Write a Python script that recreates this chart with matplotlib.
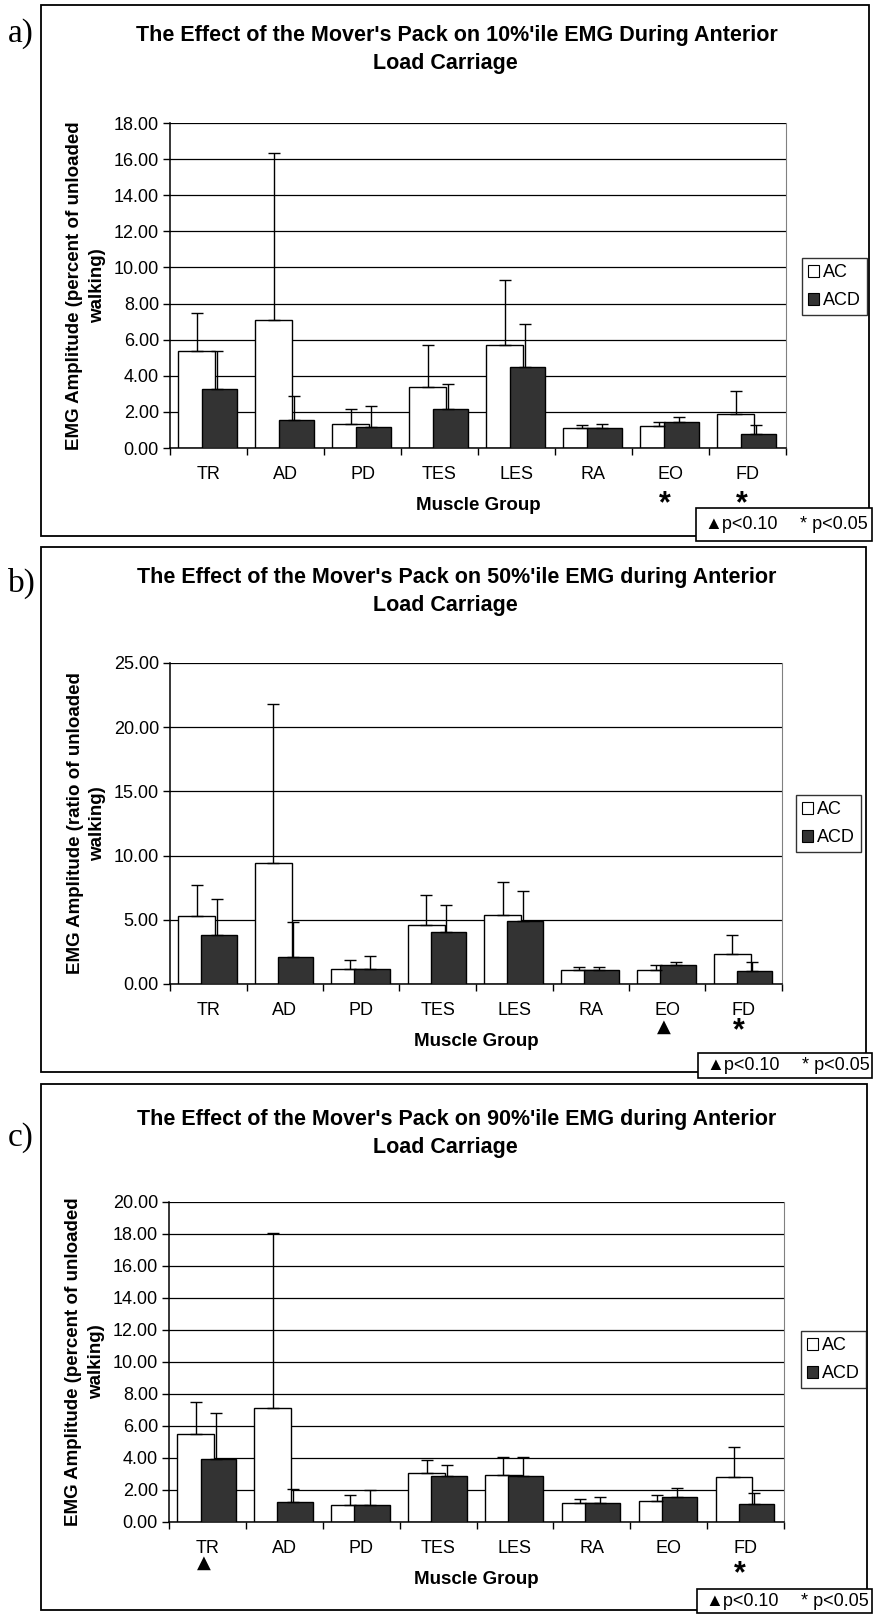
import matplotlib
matplotlib.use("Agg")
import matplotlib.pyplot as plt
from matplotlib.patches import Rectangle, Patch
from matplotlib.ticker import FormatStrFormatter
import numpy as np

plt.rcParams['font.family'] = ['Liberation Sans', 'DejaVu Sans']

W, H = 873, 1614

muscles = ["TR", "AD", "PD", "TES", "LES", "RA", "EO", "FD"]

# 10%ile EMG
ac_10 = [5.36, 7.10, 1.33, 3.39, 5.73, 1.13, 1.20, 1.89]
ac_10_sd = [2.09, 9.23, 0.83, 2.34, 3.57, 0.16, 0.24, 1.29]
acd_10 = [3.29, 1.57, 1.18, 2.16, 4.46, 1.13, 1.42, 0.76]
acd_10_sd = [2.07, 1.32, 1.17, 1.39, 2.42, 0.22, 0.32, 0.53]

# 50%ile EMG
ac_50 = [5.27, 9.42, 1.14, 4.62, 5.37, 1.12, 1.12, 2.31]
ac_50_sd = [2.41, 12.41, 0.76, 2.29, 2.57, 0.23, 0.33, 1.53]
acd_50 = [3.79, 2.08, 1.14, 4.08, 4.93, 1.12, 1.45, 1.01]
acd_50_sd = [2.80, 2.72, 1.04, 2.10, 2.31, 0.23, 0.29, 0.70]

# 90%ile EMG
ac_90 = [5.47, 7.10, 1.08, 3.04, 2.96, 1.19, 1.29, 2.81]
ac_90_sd = [2.04, 10.96, 0.58, 0.85, 1.08, 0.25, 0.42, 1.87]
acd_90 = [3.95, 1.27, 1.08, 2.85, 2.85, 1.21, 1.54, 1.10]
acd_90_sd = [2.88, 0.81, 0.94, 0.69, 1.19, 0.33, 0.56, 0.71]

titles = [
    ("The Effect of the Mover's Pack on 10%'ile EMG During Anterior", "Load Carriage"),
    ("The Effect of the Mover's Pack on 50%'ile EMG during Anterior", "Load Carriage"),
    ("The Effect of the Mover's Pack on 90%'ile EMG during Anterior", "Load Carriage"),
]
ylabels = [
    "EMG Amplitude (percent of unloaded\nwalking)",
    "EMG Amplitude (ratio of unloaded\nwalking)",
    "EMG Amplitude (percent of unloaded\nwalking)",
]
ymax = [18, 25, 20]
ystep = [2, 5, 2]
panel_tags = ["a)", "b)", "c)"]
# significance marks: (muscle index, symbol, pixels below axis)
sig_marks = [
    [(6, "*", 56), (7, "*", 56)],
    [(6, "\u25B2", 43), (7, "*", 47)],
    [(0, "\u25B2", 41), (7, "*", 52)],
]

data = [
    (ac_10, ac_10_sd, acd_10, acd_10_sd),
    (ac_50, ac_50_sd, acd_50, acd_50_sd),
    (ac_90, ac_90_sd, acd_90, acd_90_sd),
]

# layout in pixels (top-left origin)
axes_px = [(170, 123, 786, 448), (170, 663, 782, 984), (169, 1202, 784, 1522)]
frame_px = [(41, 5, 869, 536), (41, 547, 866, 1072), (41, 1084, 867, 1610)]
pbox_px = [(696, 508, 872, 541), (698, 1053, 872, 1078), (697, 1589, 872, 1613)]
legend_px = [(802, 258), (796, 795), (801, 1331)]
title_y = [35, 577, 1119]
tag_y = [34, 583, 1138]


def fx(x):
    return x / W


def fy(y):
    return 1 - y / H


fig = plt.figure(figsize=(W / 100, H / 100), dpi=100)
fig.patch.set_facecolor("white")

x = np.arange(len(muscles))
dark = "#333333"

for p in range(3):
    x0, y0, x1, y1 = frame_px[p]
    fig.add_artist(Rectangle((fx(x0), fy(y1)), fx(x1 - x0), (y1 - y0) / H,
                             transform=fig.transFigure, fill=False,
                             ec="black", lw=1.3))
    fig.text(fx(8), fy(tag_y[p]), panel_tags[p], family="Liberation Serif",
             fontsize=24, va="center", ha="left")
    fig.text(fx(457), fy(title_y[p]), titles[p][0], fontsize=15.5,
             fontweight="bold", ha="center", va="center")
    fig.text(fx(445), fy(title_y[p] + 28), titles[p][1], fontsize=15.5,
             fontweight="bold", ha="center", va="center")

    ax0, ay0, ax1, ay1 = axes_px[p]
    ax = fig.add_axes([fx(ax0), fy(ay1), fx(ax1 - ax0), (ay1 - ay0) / H])
    ax_h = ay1 - ay0
    ac, ac_sd, acd, acd_sd = data[p]
    xa = x + 0.35
    xd = x + 0.64
    ax.bar(xa, ac, width=0.48, color="white", edgecolor="black", lw=1.0, zorder=2)
    ax.bar(xd, acd, width=0.46, color=dark, edgecolor="black", lw=1.0, zorder=3)
    ax.errorbar(xa, ac, yerr=[np.zeros(len(ac)), ac_sd], fmt="none",
                ecolor="black", elinewidth=1.0, capsize=4, capthick=1.0, zorder=4)
    ax.errorbar(xd - 0.03, acd, yerr=[np.zeros(len(acd)), acd_sd], fmt="none",
                ecolor="black", elinewidth=1.0, capsize=4, capthick=1.0, zorder=4)

    ax.set_xlim(0, 8)
    ax.set_ylim(0, ymax[p])
    ax.set_yticks(np.arange(0, ymax[p] + 0.01, ystep[p]))
    ax.yaxis.set_major_formatter(FormatStrFormatter("%.2f"))
    ax.yaxis.grid(True, color="black", lw=0.9, zorder=0)
    ax.set_axisbelow(True)
    ax.set_xticks(range(9))
    ax.set_xticklabels([])
    ax.set_xticks(x + 0.5, minor=True)
    ax.set_xticklabels(muscles, minor=True, fontsize=13)
    ax.tick_params(axis="x", which="major", direction="out", length=5, width=1)
    ax.tick_params(axis="x", which="minor", length=0, pad=13)
    ax.tick_params(axis="y", direction="out", length=5, width=1, labelsize=13, pad=3)
    for s in ["left", "bottom"]:
        ax.spines[s].set_color("black")
        ax.spines[s].set_linewidth(1.1)
    ax.spines["right"].set_color("#808080")
    ax.spines["top"].set_visible(False)

    ax.set_xlabel("Muscle Group", fontsize=13.5, fontweight="bold", va="center")
    ax.xaxis.set_label_coords(0.5, -57 / ax_h)
    ax.set_ylabel(ylabels[p], fontsize=13.5, fontweight="bold", linespacing=1.45)
    ax.yaxis.set_label_coords(-0.104, 0.5)

    for idx, sym, off in sig_marks[p]:
        if sym == "*":
            ax.annotate(sym, xy=(idx + 0.43, 0), xycoords=("data", "axes fraction"),
                        xytext=(0, -off), textcoords="offset pixels",
                        ha="center", va="center", fontsize=22, fontweight="bold")
        else:
            ax.annotate(sym, xy=(idx + 0.45, 0), xycoords=("data", "axes fraction"),
                        xytext=(0, -off), textcoords="offset pixels",
                        ha="center", va="center", fontsize=13,
                        family="DejaVu Sans")

    handles = [Patch(facecolor="white", edgecolor="black", lw=0.8),
               Patch(facecolor=dark, edgecolor="black", lw=0.8)]
    lx, ly = legend_px[p]
    leg = fig.legend(handles, ["AC", "ACD"], loc="upper left",
                     bbox_to_anchor=(fx(lx), fy(ly)), fontsize=13,
                     frameon=True, fancybox=False, edgecolor="black",
                     handlelength=0.6, handleheight=0.6, handletextpad=0.2,
                     labelspacing=0.6, borderpad=0.35, borderaxespad=0)
    leg.get_frame().set_linewidth(1.0)

    bx0, by0, bx1, by1 = pbox_px[p]
    fig.add_artist(Rectangle((fx(bx0), fy(by1)), fx(bx1 - bx0), (by1 - by0) / H,
                             transform=fig.transFigure, facecolor="white",
                             ec="black", lw=1.2))
    cy = (by0 + by1) / 2
    fig.text(fx(bx0 + 8), fy(cy), "\u25B2p<0.10", fontsize=13, va="center", ha="left")
    fig.text(fx(bx0 + 104), fy(cy), "* p<0.05", fontsize=13, va="center", ha="left")

fig.savefig("out.png", dpi=100)
